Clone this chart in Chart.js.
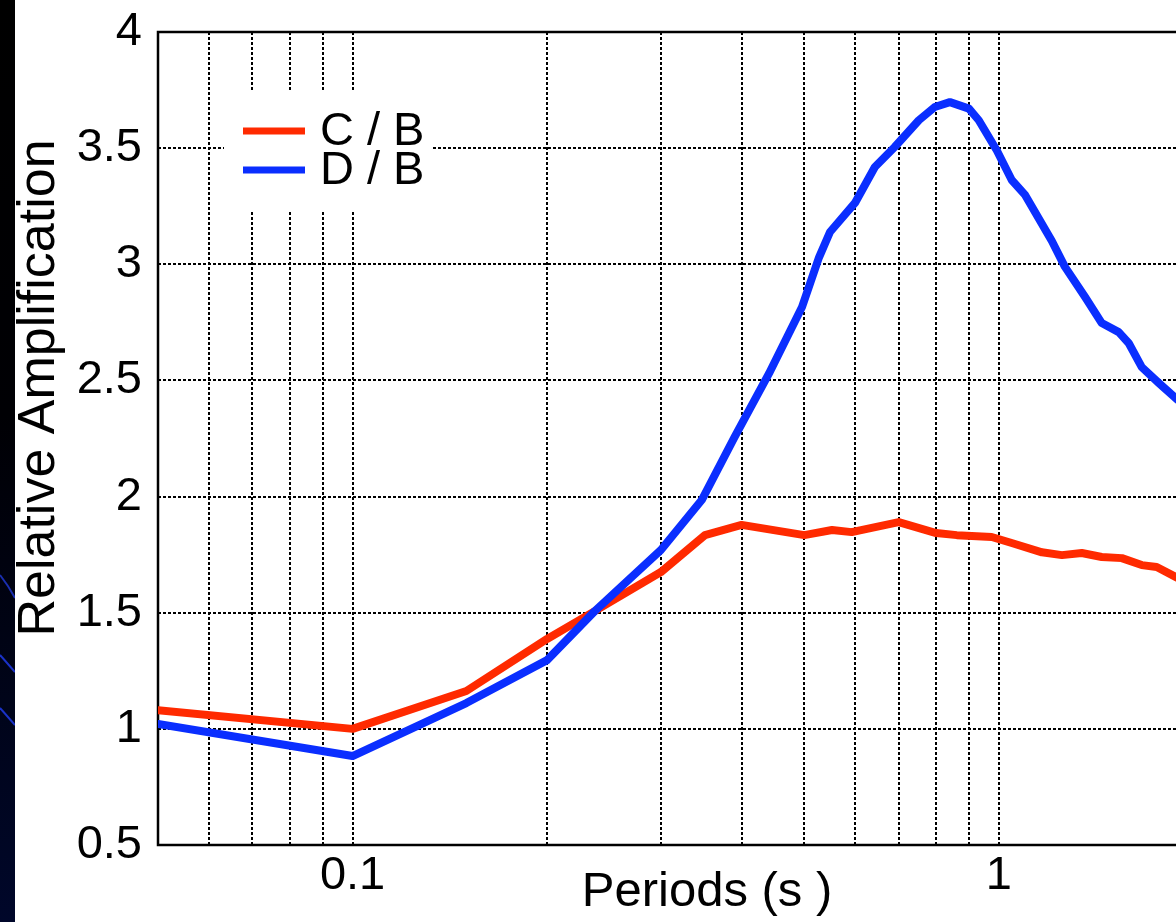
<!DOCTYPE html>
<html>
<head>
<meta charset="utf-8">
<script src="https://cdn.jsdelivr.net/npm/chart.js@4.4.1/dist/chart.umd.min.js"></script>
<style>
  html, body { margin: 0; padding: 0; background: #fff; overflow: hidden; }
  #wrap { position: relative; width: 1290px; height: 922px; }
  #strip { position: absolute; left: 0; top: 0; width: 15px; height: 922px; }
</style>
</head>
<body>
<div id="wrap">
  <canvas id="chart"></canvas>
  <svg id="strip" width="15" height="922">
    <defs>
      <linearGradient id="bg" x1="0" y1="0" x2="0" y2="1">
        <stop offset="0" stop-color="#000000"/>
        <stop offset="0.45" stop-color="#000004"/>
        <stop offset="1" stop-color="#00072a"/>
      </linearGradient>
    </defs>
    <rect x="0" y="0" width="15" height="922" fill="url(#bg)"/>
    <path d="M0 575 Q8 585 15 598" stroke="#1a2fb0" stroke-width="2" fill="none"/>
    <path d="M0 655 L15 672" stroke="#1a32c8" stroke-width="2" fill="none"/>
    <path d="M0 708 L15 725" stroke="#1a32c8" stroke-width="2" fill="none"/>
  </svg>
</div>
<script>
// periods (s) and relative amplification
const periodsCB = [0.05, 0.1, 0.15, 0.2, 0.237, 0.3, 0.351, 0.4, 0.5, 0.552, 0.592, 0.7, 0.8, 0.861, 0.975, 1.047, 1.166, 1.252, 1.344, 1.443, 1.55, 1.664, 1.755, 1.89, 2.0];
const ampCB = [1.08, 1.0, 1.163, 1.387, 1.507, 1.675, 1.834, 1.878, 1.834, 1.856, 1.847, 1.89, 1.843, 1.834, 1.826, 1.80, 1.76, 1.748, 1.757, 1.74, 1.735, 1.705, 1.697, 1.65, 1.62];

const periodsDB = [0.05, 0.1, 0.15, 0.2, 0.237, 0.3, 0.347, 0.39, 0.441, 0.496, 0.527, 0.548, 0.599, 0.643, 0.69, 0.752, 0.796, 0.84, 0.899, 0.931, 0.993, 1.047, 1.097, 1.208, 1.265, 1.359, 1.443, 1.533, 1.589, 1.664, 1.768, 1.892, 2.0];
const ampDB = [1.021, 0.883, 1.111, 1.296, 1.507, 1.77, 1.985, 2.256, 2.53, 2.816, 3.03, 3.139, 3.264, 3.419, 3.505, 3.62, 3.677, 3.698, 3.67, 3.62, 3.49, 3.363, 3.30, 3.10, 2.99, 2.86, 2.747, 2.708, 2.66, 2.557, 2.489, 2.416, 2.37];

const seriesLabels = ['C / B', 'D / B'];
const seriesColors = ['#ff2a00', '#0a2eff'];

const yTicks = [0.5, 1, 1.5, 2, 2.5, 3, 3.5, 4];
const xGrid = [0.06, 0.07, 0.08, 0.09, 0.1, 0.2, 0.3, 0.4, 0.5, 0.6, 0.7, 0.8, 0.9, 1, 2];
const xLabelValues = [0.1, 1];
const xLabelTexts = ['0.1', '1'];

const FONT = '"Liberation Sans", Arial, Helvetica, sans-serif';
const FS = 47;

function pairs(xs, ys) {
    return xs.map((x, i) => ({ x: x, y: ys[i] }));
}

// solid frame round the plot
const framePlugin = {
    id: 'frame',
    beforeDatasetsDraw(chart) {
        const a = chart.chartArea, ctx = chart.ctx;
        ctx.save();
        ctx.strokeStyle = '#000';
        ctx.lineWidth = 2.5;
        ctx.strokeRect(a.left, a.top, a.right - a.left, a.bottom - a.top);
        ctx.restore();
    }
};

// boxed legend inside the plot, top left
const legendPlugin = {
    id: 'boxLegend',
    afterDatasetsDraw(chart) {
        const ctx = chart.ctx;
        ctx.save();
        ctx.fillStyle = '#fff';
        ctx.fillRect(224, 90, 208, 120);
        ctx.font = FS + 'px ' + FONT;
        ctx.textBaseline = 'middle';
        ctx.textAlign = 'left';
        chart.data.datasets.forEach((ds, i) => {
            const y = 131 + i * 39;
            ctx.strokeStyle = ds.borderColor;
            ctx.lineWidth = 7;
            ctx.beginPath();
            ctx.moveTo(243, y);
            ctx.lineTo(305, y);
            ctx.stroke();
            ctx.fillStyle = '#000';
            ctx.fillText(ds.label, 320, y + 1);
        });
        ctx.restore();
    }
};

// y axis title, placed a little above the middle as in the original
const yTitlePlugin = {
    id: 'yTitle',
    afterDraw(chart) {
        const ctx = chart.ctx;
        ctx.save();
        ctx.translate(40, 388);
        ctx.rotate(-Math.PI / 2);
        ctx.font = '52px ' + FONT;
        ctx.fillStyle = '#000';
        ctx.textAlign = 'center';
        ctx.textBaseline = 'middle';
        ctx.fillText('Relative Amplification', 0, 0);
        ctx.restore();
    }
};

const datasets = [
    { label: seriesLabels[0], data: pairs(periodsCB, ampCB), borderColor: seriesColors[0], order: 1 },
    { label: seriesLabels[1], data: pairs(periodsDB, ampDB), borderColor: seriesColors[1], order: 0 }
].map(d => Object.assign(d, {
    borderWidth: 8,
    pointRadius: 0,
    tension: 0,
    fill: false,
    borderJoinStyle: 'round',
    borderCapStyle: 'round'
}));

new Chart(document.getElementById('chart'), {
    type: 'line',
    data: { datasets: datasets },
    plugins: [framePlugin, legendPlugin, yTitlePlugin],
    options: {
        responsive: true,
        maintainAspectRatio: false,
        animation: false,
        layout: { padding: { top: 32, right: 34, left: 0, bottom: 0 } },
        plugins: { legend: { display: false }, tooltip: { enabled: false } },
        scales: {
            x: {
                type: 'logarithmic',
                min: 0.05,
                max: 2.5,
                afterBuildTicks(s) { s.ticks = xGrid.map(v => ({ value: v })); },
                afterFit(s) { s.height = 77; },
                grid: { color: '#000', lineWidth: 2, drawTicks: false },
                border: { display: false, dash: [3, 2] },
                ticks: {
                    autoSkip: false,
                    maxRotation: 0,
                    padding: 3,
                    color: '#000',
                    font: { family: FONT, size: FS },
                    callback(v) {
                        const k = xLabelValues.findIndex(t => Math.abs(t - v) < 1e-9);
                        return k >= 0 ? xLabelTexts[k] : '';
                    }
                },
                title: {
                    display: true,
                    text: 'Periods (s )',
                    color: '#000',
                    padding: 0,
                    align: 'center',
                    font: { family: FONT, size: 49 }
                }
            },
            y: {
                min: 0.5,
                max: 4,
                afterBuildTicks(s) { s.ticks = yTicks.map(v => ({ value: v })); },
                afterFit(s) {
                    s.width = 158;
                    s.paddingTop = 0;
                    s.paddingBottom = 0;
                },
                grid: { color: '#000', lineWidth: 2, drawTicks: false },
                border: { display: false, dash: [3, 2] },
                ticks: {
                    padding: 16,
                    color: '#000',
                    font: { family: FONT, size: FS },
                    callback(v) { return String(v); }
                }
            }
        }
    }
});
</script>
</body>
</html>
